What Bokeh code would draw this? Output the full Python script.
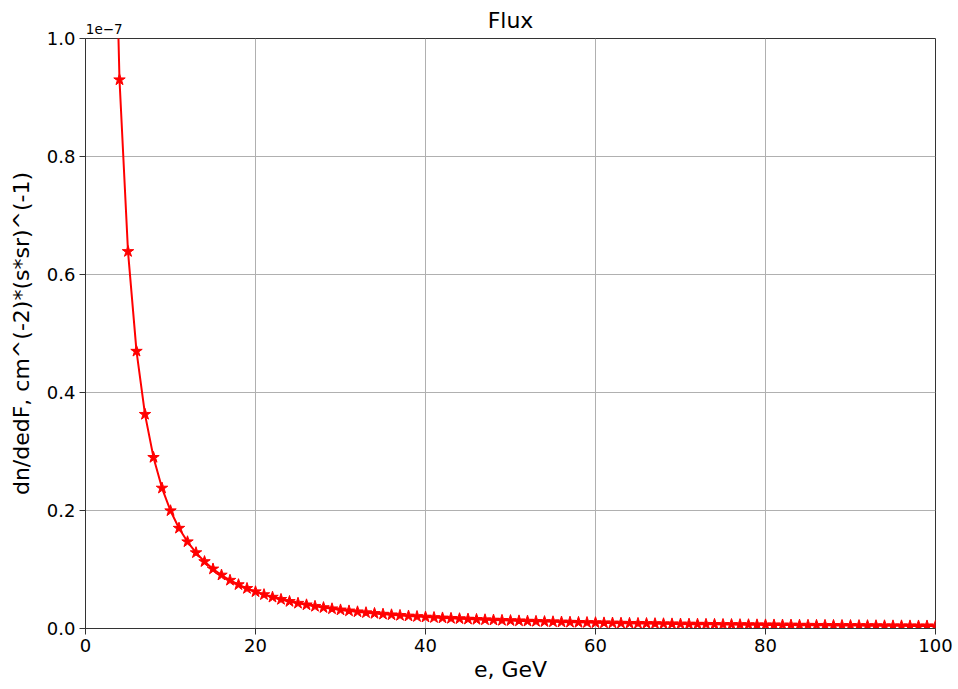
from bokeh.plotting import figure
from bokeh.models import Range1d, FixedTicker, NumeralTickFormatter, LinearAxis
from bokeh.embed import file_html
from bokeh.resources import INLINE

# Energy, GeV
energy = list(range(3, 101))
# Flux in units of 1e-7 cm^-2 (s sr)^-1
flux = [
    1.508, 0.930, 0.639, 0.470, 0.363, 0.290, 0.238, 0.1996, 0.170, 0.147,
    0.1285, 0.1134, 0.1009, 0.0906, 0.0818, 0.0743, 0.0679, 0.0623, 0.0574, 0.0531,
    0.0493, 0.0458, 0.0428, 0.0401, 0.0376, 0.0354, 0.0334, 0.0315, 0.0298, 0.0283,
    0.0268, 0.0255, 0.0243, 0.0232, 0.0222, 0.0212, 0.0203, 0.0194, 0.0186, 0.0179,
    0.0172, 0.0166, 0.0159, 0.0154, 0.0148, 0.0143, 0.0138, 0.0134, 0.0129, 0.0125,
    0.0121, 0.0117, 0.0114, 0.0110, 0.0107, 0.0104, 0.0101, 0.0098, 0.0095, 0.0093,
    0.0090, 0.0088, 0.0086, 0.0084, 0.0082, 0.0080, 0.0078, 0.0076, 0.0074, 0.0073,
    0.0071, 0.0070, 0.0068, 0.0067, 0.0065, 0.0064, 0.0062, 0.0061, 0.0060, 0.0059,
    0.0058, 0.0056, 0.0055, 0.0054, 0.0053, 0.0052, 0.0051, 0.0050, 0.0049, 0.0048,
    0.0047, 0.0046, 0.0045, 0.0045, 0.0044, 0.0043, 0.0043, 0.0042,
]
x_ticks = [0, 20, 40, 60, 80, 100]
y_ticks = [0.0, 0.2, 0.4, 0.6, 0.8, 1.0]
title_text = "Flux"
scale_text = "1e\u22127"

FONT = "DejaVu Sans"
SPINE = "#333333"

p = figure(width=958, height=689, output_backend="svg", toolbar_location=None,
           x_range=Range1d(0, 100), y_range=Range1d(0, 1.0),
           min_border_left=85, min_border_right=23, min_border_top=38, min_border_bottom=61)

p.line(energy, flux, line_color="red", line_width=2)
p.scatter(energy, flux, marker="star", size=12, fill_color="red", line_color="red")

for ax in (p.xaxis[0], p.yaxis[0]):
    ax.major_label_text_font = FONT
    ax.major_label_text_font_size = "18px"
    ax.major_label_text_color = "#000000"
    ax.axis_label_text_font = FONT
    ax.axis_label_text_font_size = "22px"
    ax.axis_label_text_font_style = "normal"
    ax.axis_label_text_color = "#000000"
    ax.axis_line_color = SPINE
    ax.major_tick_line_color = SPINE
    ax.major_tick_out = 6
    ax.major_tick_in = 0
    ax.minor_tick_line_color = None

p.xaxis[0].ticker = FixedTicker(ticks=x_ticks)
p.yaxis[0].ticker = FixedTicker(ticks=y_ticks)
p.yaxis[0].formatter = NumeralTickFormatter(format="0.0")
p.xaxis[0].axis_label = "e, GeV"
p.yaxis[0].axis_label = "dn/dedF, cm^(-2)*(s*sr)^(-1)"
p.xaxis[0].axis_label_standoff = 2
p.yaxis[0].axis_label_standoff = 10
p.xaxis[0].major_label_standoff = 4
p.yaxis[0].major_label_standoff = 4

# top axis carries the scale factor text and the title
top = LinearAxis(ticker=FixedTicker(ticks=[2.2]), major_label_overrides={2.2: scale_text},
                 axis_label=title_text)
top.axis_line_color = None
top.major_tick_line_color = None
top.minor_tick_line_color = None
top.major_tick_out = 0
top.major_tick_in = 0
top.major_label_standoff = 5
top.major_label_text_font = FONT
top.major_label_text_font_size = "13.5px"
top.major_label_text_color = "#000000"
top.axis_label_text_font = FONT
top.axis_label_text_font_size = "22px"
top.axis_label_text_font_style = "normal"
top.axis_label_text_color = "#000000"
top.axis_label_standoff = -12
p.add_layout(top, "above")

p.grid.grid_line_color = "#b0b0b0"
p.grid.grid_line_width = 1
p.outline_line_color = SPINE
p.outline_line_alpha = 1
p.background_fill_color = "white"
p.border_fill_color = "white"

open("out.html", "w").write(file_html(p, INLINE))
